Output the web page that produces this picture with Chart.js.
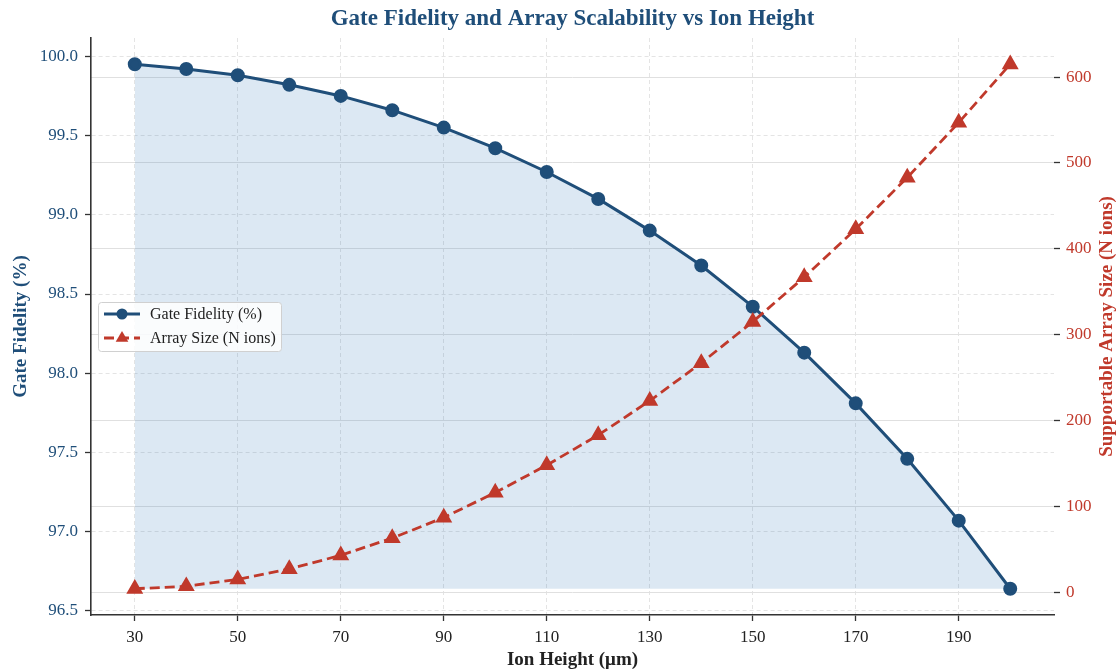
<!DOCTYPE html>
<html lang="en">
<head>
<meta charset="UTF-8">
<title>Gate Fidelity and Array Scalability vs Ion Height</title>
<script src="https://cdn.jsdelivr.net/npm/chart.js"></script>
<style>
  body { margin: 0; background: #fff; }
</style>
</head>
<body>
<canvas id="myChart" width="1118" height="671"></canvas>
<script>
// data
const ionHeights = [30, 40, 50, 60, 70, 80, 90, 100, 110, 120, 130, 140, 150, 160, 170, 180, 190, 200];
const gateFidelity = [99.95, 99.92, 99.88, 99.82, 99.75, 99.66, 99.55, 99.42, 99.27, 99.10, 98.90, 98.68, 98.42, 98.13, 97.81, 97.46, 97.07, 96.64];
const arraySize = [4, 7, 15, 27, 43, 63, 87, 116, 148, 183, 223, 267, 315, 367, 423, 483, 547, 615];
const xTicks = [30, 50, 70, 90, 110, 130, 150, 170, 190];
const fidelityTicks = [96.5, 97.0, 97.5, 98.0, 98.5, 99.0, 99.5, 100.0];
const sizeTicks = [0, 100, 200, 300, 400, 500, 600];
const legendLabels = ['Gate Fidelity (%)', 'Array Size (N ions)'];
const titleText = 'Gate Fidelity and Array Scalability vs Ion Height';
const rightTitle = 'Supportable Array Size (N ions)';

const BLUE = '#1f4e79';
const RED = '#c0392b';
const SERIF = '"Liberation Serif", "Times New Roman", serif';

const fmin = Math.min(...gateFidelity);
const fmax = Math.max(...gateFidelity);
const smin = Math.min(...arraySize);
const smax = Math.max(...arraySize);
const fpad = (fmax - fmin) * 0.05;
const spad = (smax - smin) * 0.05;

// title centred over the plot and the right axis title read bottom-up
const extraText = {
    id: 'extraText',
    afterDraw(chart) {
        const ctx = chart.ctx;
        const a = chart.chartArea;
        ctx.save();
        ctx.textAlign = 'center';
        ctx.textBaseline = 'middle';
        ctx.fillStyle = BLUE;
        ctx.font = 'bold 23px ' + SERIF;
        ctx.fillText(titleText, (a.left + a.right) / 2, 19);

        ctx.translate(1107, (a.top + a.bottom) / 2);
        ctx.rotate(-Math.PI / 2);
        ctx.fillStyle = RED;
        ctx.font = 'bold 19px ' + SERIF;
        ctx.fillText(rightTitle, 0, 0);
        ctx.restore();
    }
};

// legend box drawn inside the plot, like the original
const legendBox = {
    id: 'legendBox',
    afterDraw(chart) {
        const ctx = chart.ctx;
        const x = 98, y = 302, w = 183, h = 49;
        ctx.save();
        ctx.fillStyle = 'rgba(255,255,255,0.85)';
        ctx.strokeStyle = '#d0d0d0';
        ctx.lineWidth = 1;
        ctx.beginPath();
        ctx.roundRect(x + 0.5, y + 0.5, w, h, 3);
        ctx.fill();
        ctx.stroke();

        const rows = [y + 12, y + 36];
        const sets = [chart.data.datasets[1], chart.data.datasets[0]];
        sets.forEach((ds, i) => {
            const cy = rows[i];
            ctx.strokeStyle = ds.borderColor;
            ctx.lineWidth = ds.borderWidth;
            ctx.setLineDash(ds.borderDash || []);
            ctx.beginPath();
            ctx.moveTo(104, cy);
            ctx.lineTo(140, cy);
            ctx.stroke();
            ctx.setLineDash([]);
            ctx.fillStyle = ds.pointBackgroundColor;
            ctx.beginPath();
            if (ds.pointStyle === 'triangle') {
                const r = 7;
                ctx.moveTo(122, cy - r);
                ctx.lineTo(122 + r * 0.9, cy + r * 0.55);
                ctx.lineTo(122 - r * 0.9, cy + r * 0.55);
                ctx.closePath();
            } else {
                ctx.arc(122, cy, 5.5, 0, Math.PI * 2);
            }
            ctx.fill();
            ctx.fillStyle = '#222';
            ctx.font = '16px ' + SERIF;
            ctx.textBaseline = 'middle';
            ctx.fillText(legendLabels[i], 150, cy + 1);
        });
        ctx.restore();
    }
};

const chart = new Chart(document.getElementById('myChart'), {
    type: 'line',
    data: {
        labels: ionHeights,
        datasets: [{
            label: legendLabels[1],
            data: ionHeights.map((h, i) => ({x: h, y: arraySize[i]})),
            yAxisID: 'y2',
            borderColor: RED,
            backgroundColor: RED,
            pointBackgroundColor: RED,
            pointBorderColor: RED,
            borderWidth: 2.8,
            borderDash: [10, 5],
            pointStyle: 'triangle',
            pointRadius: 7,
            fill: false,
            tension: 0,
            order: 1
        }, {
            label: legendLabels[0],
            data: ionHeights.map((h, i) => ({x: h, y: gateFidelity[i]})),
            yAxisID: 'y',
            borderColor: BLUE,
            backgroundColor: 'rgba(46,117,182,0.17)',
            pointBackgroundColor: BLUE,
            pointBorderColor: BLUE,
            borderWidth: 3,
            pointRadius: 5.5,
            fill: {value: fmin},
            tension: 0,
            order: 2
        }]
    },
    options: {
        responsive: false,
        animation: false,
        layout: {padding: {top: 38}},
        plugins: {
            legend: {display: false},
            tooltip: {enabled: false},
            title: {display: false}
        },
        scales: {
            x: {
                type: 'linear',
                min: 21.5,
                max: 208.5,
                afterBuildTicks: (axis) => { axis.ticks = xTicks.map(v => ({value: v})); },
                afterFit: (axis) => { axis.height = 56; },
                ticks: {color: '#222', font: {family: SERIF, size: 17}, padding: 6, maxRotation: 0},
                grid: {color: '#e4e4e4', lineWidth: 1, tickColor: '#333', tickLength: 6, tickWidth: 1.3},
                border: {display: true, color: '#333', width: 1.6, dash: [4, 3]},
                title: {display: true, text: 'Ion Height (μm)', color: '#222',
                        font: {family: SERIF, size: 19, weight: 'bold', lineHeight: 1.2}, padding: {top: 0, bottom: 0}}
            },
            y: {
                position: 'left',
                min: fmin - fpad,
                max: fmax + fpad,
                afterBuildTicks: (axis) => { axis.ticks = fidelityTicks.map(v => ({value: v})); },
                afterFit: (axis) => { axis.width = 91; },
                ticks: {color: BLUE, font: {family: SERIF, size: 17}, padding: 7,
                        callback: (v) => Number(v).toFixed(1)},
                grid: {color: '#e4e4e4', lineWidth: 1, tickColor: '#333', tickLength: 6, tickWidth: 1.3},
                border: {display: true, color: '#333', width: 1.6, dash: [4, 3]},
                title: {display: true, text: 'Gate Fidelity (%)', color: BLUE,
                        font: {family: SERIF, size: 19, weight: 'bold', lineHeight: 1.2}, padding: {top: 10, bottom: 0}}
            },
            y2: {
                position: 'right',
                min: smin - spad,
                max: smax + spad,
                afterBuildTicks: (axis) => { axis.ticks = sizeTicks.map(v => ({value: v})); },
                afterFit: (axis) => { axis.width = 64; },
                ticks: {color: RED, font: {family: SERIF, size: 17}, padding: 6},
                grid: {color: '#e0e0e0', lineWidth: 1, tickColor: '#333', tickLength: 6, tickWidth: 1.3},
                border: {display: false},
                title: {display: false}
            }
        }
    },
    plugins: [legendBox, extraText]
});
</script>
</body>
</html>
